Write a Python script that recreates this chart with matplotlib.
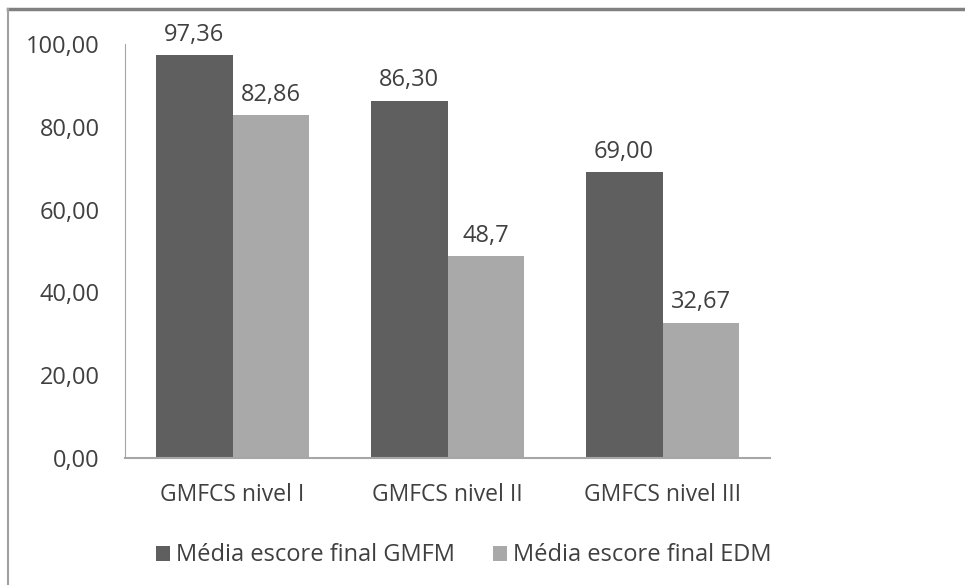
import matplotlib
matplotlib.use("Agg")

import matplotlib.pyplot as plt
import numpy as np
from matplotlib.lines import Line2D

categories = ["GMFCS nivel I", "GMFCS nivel II", "GMFCS nivel III"]
gmfm = [97.36, 86.30, 69.00]
edm = [82.86, 48.7, 32.67]
gmfm_labels = ["97,36", "86,30", "69,00"]
edm_labels = ["82,86", "48,7", "32,67"]
series_names = ["Média escore final GMFM", "Média escore final EDM"]

plt.rcParams["font.family"] = ["Open Sans", "DejaVu Sans"]

text_color = "#404040"
dark = "#5f5f5f"
light = "#a9a9a9"

fig = plt.figure(figsize=(9.65, 5.85), dpi=100)
ax = fig.add_axes([125 / 965, 1 - 458 / 585, 645 / 965, 414 / 585])

x = np.arange(len(categories))
w = 0.358

b1 = ax.bar(x - w / 2, gmfm, w, color=dark, label=series_names[0])
b2 = ax.bar(x + w / 2, edm, w, color=light, label=series_names[1])

for rect, lab in zip(b1, gmfm_labels):
    ax.text(rect.get_x() + rect.get_width() / 2, rect.get_height() + 2.0, lab,
            ha="center", va="bottom", fontsize=17, color=text_color)
for rect, lab in zip(b2, edm_labels):
    ax.text(rect.get_x() + rect.get_width() / 2, rect.get_height() + 2.0, lab,
            ha="center", va="bottom", fontsize=17, color=text_color)

ax.set_xlim(-0.5, 2.5)
ax.set_ylim(0, 100)
ax.set_yticks(np.arange(0, 101, 20))
ax.set_yticklabels([f"{v:.2f}".replace(".", ",") for v in np.arange(0, 101, 20)])
ax.set_xticks(x)
ax.set_xticklabels(categories)

ax.tick_params(axis="both", length=0, labelsize=17, colors=text_color)
ax.tick_params(axis="x", labelsize=16.5, pad=18)
ax.tick_params(axis="y", pad=18)

for side in ["top", "right"]:
    ax.spines[side].set_visible(False)
ax.spines["left"].set_color("#a6a6a6")
ax.spines["bottom"].set_color("#a6a6a6")
ax.spines["bottom"].set_linewidth(1.5)

ax.legend(loc="upper center", bbox_to_anchor=(0.525, -0.155), ncol=2,
          frameon=False, fontsize=17, handlelength=0.6, handleheight=0.6,
          handletextpad=0.25, columnspacing=1.6, labelcolor=text_color)

# outer frame (top and left edges visible in the original)
fig.add_artist(Line2D([8 / 965, 1], [1 - 9 / 585, 1 - 9 / 585],
                      transform=fig.transFigure, color="#808080", linewidth=2.5))
fig.add_artist(Line2D([8 / 965, 8 / 965], [0, 1 - 9 / 585],
                      transform=fig.transFigure, color="#a0a0a0", linewidth=1.5))

fig.savefig("out.png", dpi=100)
plt.close(fig)
